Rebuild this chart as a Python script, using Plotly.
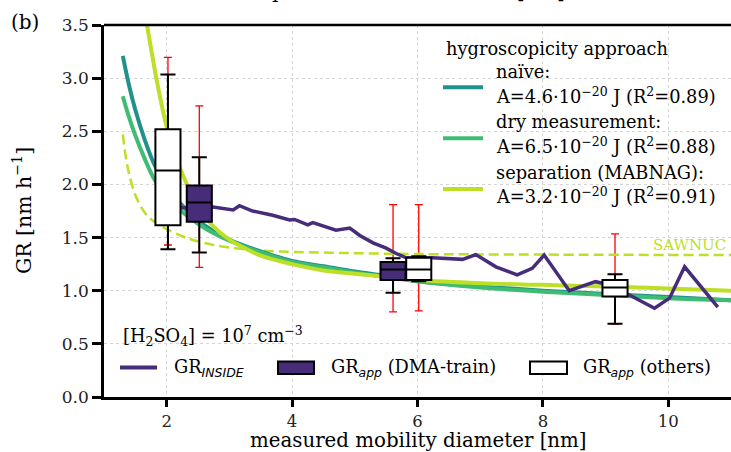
import plotly.graph_objects as go

# ---------------- data ----------------
d_naive = [1.30, 1.40, 1.50, 1.65, 1.80, 2.00, 2.25, 2.50, 2.75, 3.00, 3.50, 4.00, 4.50, 5.00, 5.50, 6.00, 7.00, 8.00, 9.00, 10.0, 11.0]
gr_naive = [3.21, 2.93, 2.70, 2.42, 2.19, 1.98, 1.80, 1.66, 1.56, 1.48, 1.37, 1.28, 1.23, 1.18, 1.14, 1.09, 1.04, 1.00, 0.97, 0.94, 0.91]

d_dry = [1.30, 1.40, 1.50, 1.65, 1.80, 2.00, 2.25, 2.50, 2.75, 3.00, 3.50, 4.00, 4.50, 5.00, 5.50, 6.00, 7.00, 8.00, 9.00, 10.0, 11.0]
gr_dry = [2.83, 2.63, 2.46, 2.24, 2.05, 1.88, 1.74, 1.63, 1.54, 1.47, 1.36, 1.27, 1.22, 1.17, 1.13, 1.09, 1.03, 0.99, 0.96, 0.93, 0.91]

d_sep = [1.45, 1.55, 1.62, 1.70, 1.85, 2.00, 2.15, 2.30, 2.50, 2.72, 3.00, 3.25, 3.50, 4.00, 4.50, 5.00, 5.50, 6.00, 7.00, 8.00, 9.00, 10.0, 11.0]
gr_sep = [4.40, 3.98, 3.72, 3.45, 2.95, 2.54, 2.25, 2.03, 1.80, 1.62, 1.48, 1.40, 1.33, 1.25, 1.19, 1.16, 1.13, 1.10, 1.07, 1.055, 1.04, 1.02, 1.00]

d_sawnuc = [1.30, 1.35, 1.40, 1.50, 1.60, 1.70, 1.85, 2.00, 2.30, 2.75, 3.25, 3.80, 4.80, 6.00, 8.00, 11.0]
gr_sawnuc = [2.47, 2.25, 2.10, 1.90, 1.78, 1.70, 1.63, 1.58, 1.50, 1.43, 1.39, 1.37, 1.355, 1.345, 1.34, 1.335]

d_inside = [2.15, 2.35, 2.71, 3.06, 3.16, 3.37, 3.69, 3.96, 4.04, 4.25, 4.33, 4.54, 4.70, 4.92, 5.08, 5.29, 5.50, 5.66, 5.82,
            6.24, 6.72, 6.93, 7.25, 7.59, 7.83, 8.02, 8.42, 8.84, 8.95, 9.38, 9.78, 10.02, 10.26, 10.79]
gr_inside = [1.78, 1.78, 1.79, 1.76, 1.80, 1.75, 1.71, 1.665, 1.67, 1.62, 1.64, 1.60, 1.57, 1.59, 1.52, 1.45, 1.40, 1.35, 1.31,
             1.31, 1.295, 1.34, 1.225, 1.15, 1.21, 1.335, 1.00, 1.085, 1.07, 0.96, 0.835, 0.93, 1.225, 0.845]

# box statistics: GR_app (DMA-train)
dma_d = [2.52, 5.61]
dma_low = [1.36, 0.98]
dma_q1 = [1.65, 1.10]
dma_med = [1.83, 1.20]
dma_q3 = [1.99, 1.27]
dma_high = [2.255, 1.305]
dma_err_low = [1.22, 0.80]
dma_err_high = [2.74, 1.81]

# box statistics: GR_app (others)
oth_d = [2.02, 6.02, 9.15]
oth_low = [1.39, 1.09, 0.69]
oth_q1 = [1.615, 1.10, 0.945]
oth_med = [2.13, 1.20, 1.03]
oth_q3 = [2.52, 1.31, 1.10]
oth_high = [3.035, 1.325, 1.155]
oth_err_low = [1.43, 0.81, 0.685]
oth_err_high = [3.195, 1.81, 1.535]

x_ticks = [2, 4, 6, 8, 10]
y_ticks = [0.0, 0.5, 1.0, 1.5, 2.0, 2.5, 3.0, 3.5]

# ---------------- style ----------------
W, H = 731, 452
ML, MR, MT, MB = 104, 0, 25, 55
PW, PH = W - ML - MR, H - MT - MB
FONT = "DejaVu Serif"
LEG = 17.8
TEAL, GREEN, LIME, PURPLE = "#21918c", "#3fbc73", "#bddf26", "#472c7a"


def px(x):
    return (x - ML) / PW


def py(y):
    return (H - MB - y) / PH


fig = go.Figure()

# red error bars (behind boxes)
for xs, lo, hi in [(dma_d, dma_err_low, dma_err_high), (oth_d, oth_err_low, oth_err_high)]:
    mid = [(a + b) / 2 for a, b in zip(lo, hi)]
    fig.add_trace(go.Scatter(
        x=xs, y=mid, mode="markers", marker=dict(size=1, opacity=0),
        error_y=dict(type="data", symmetric=False,
                     array=[h - m for h, m in zip(hi, mid)],
                     arrayminus=[m - l for m, l in zip(mid, lo)],
                     color="red", thickness=1.3, width=4),
        showlegend=False, hoverinfo="skip"))

fig.add_trace(go.Scatter(x=d_sawnuc, y=gr_sawnuc, mode="lines", line=dict(color=LIME, width=2.5, dash="10px,5px", shape="spline"), showlegend=False))
fig.add_trace(go.Scatter(x=d_naive, y=gr_naive, mode="lines", line=dict(color=TEAL, width=4, shape="spline"), showlegend=False))
fig.add_trace(go.Scatter(x=d_dry, y=gr_dry, mode="lines", line=dict(color=GREEN, width=4, shape="spline"), showlegend=False))
fig.add_trace(go.Scatter(x=d_sep, y=gr_sep, mode="lines", line=dict(color=LIME, width=4, shape="spline"), showlegend=False))
fig.add_trace(go.Scatter(x=d_inside, y=gr_inside, mode="lines", line=dict(color=PURPLE, width=3.5), showlegend=False))

# boxes on an overlaying pair of axes so they sit above the curves
fig.add_trace(go.Box(x=dma_d, q1=dma_q1, median=dma_med, q3=dma_q3, lowerfence=dma_low, upperfence=dma_high,
                     width=0.4, whiskerwidth=0.6, fillcolor=PURPLE, line=dict(color="black", width=2),
                     boxpoints=False, xaxis="x2", yaxis="y2", showlegend=False))
fig.add_trace(go.Box(x=oth_d, q1=oth_q1, median=oth_med, q3=oth_q3, lowerfence=oth_low, upperfence=oth_high,
                     width=0.4, whiskerwidth=0.6, fillcolor="white", line=dict(color="black", width=2),
                     boxpoints=False, xaxis="x2", yaxis="y2", showlegend=False))

axis_common = dict(showline=True, linecolor="black", linewidth=2.5, ticks="outside", tickwidth=2.5,
                   tickcolor="black", showgrid=True, gridcolor="#d5d5d5", griddash="dot", gridwidth=1,
                   zeroline=False)
fig.update_layout(
    width=W, height=H, margin=dict(l=ML, r=MR, t=MT, b=MB),
    plot_bgcolor="white", paper_bgcolor="white", boxmode="overlay",
    xaxis=dict(range=[1, 11], tickvals=x_ticks, ticklen=7,
               tickfont=dict(family=FONT, size=16.5, color="#222"), **axis_common),
    yaxis=dict(range=[0, 3.5], tickvals=y_ticks, ticktext=[f"{v:.1f}" for v in y_ticks], ticklen=9,
               tickfont=dict(family=FONT, size=17, color="#222"), **axis_common),
    xaxis2=dict(range=[1, 11], overlaying="x", visible=False),
    yaxis2=dict(range=[0, 3.5], overlaying="y", visible=False),
)

shapes = []
annos = []
# top spine
shapes.append(dict(type="line", xref="paper", yref="paper", x0=0, x1=1, y0=1, y1=1, line=dict(color="black", width=2.5)))


def text(x, y, s, size=LEG, xanchor="left", color="black", angle=0):
    annos.append(dict(x=x, y=y, xref="paper", yref="paper", text=s, showarrow=False, xanchor=xanchor,
                      yanchor="middle", textangle=angle, borderpad=0,
                      font=dict(family=FONT, size=size, color=color)))


# axis labels and panel letter
text(px(418), py(440.5), "measured mobility diameter [nm]", size=19.8, xanchor="center")
text(px(22), py(211), "GR [nm h<sup>−1</sup>]", size=20.4, xanchor="center", angle=-90)
text(px(418), py(-9), "particle mass diameter [nm]", size=20.4, xanchor="center")
text(px(10), py(22), "(b)", size=20)

# SAWNUC label
annos.append(dict(x=10.95, y=1.43, xref="x", yref="y", text="SAWNUC", showarrow=False, xanchor="right",
                  yanchor="middle", font=dict(family=FONT, size=15, color=LIME)))

# upper legend
text(px(445), py(48.3), "hygroscopicity approach")
rows = [("naïve:", "A=4.6·10<sup>−20</sup> J (R<sup>2</sup>=0.89)", TEAL, 71.7, 87.3, 95),
        ("dry measurement:", "A=6.5·10<sup>−20</sup> J (R<sup>2</sup>=0.88)", GREEN, 121.7, 138.3, 145),
        ("separation (MABNAG):", "A=3.2·10<sup>−20</sup> J (R<sup>2</sup>=0.91)", LIME, 172.7, 189, 195)]
for t1, t2, c, y1, yl, y2 in rows:
    text(px(495), py(y1), t1)
    text(px(495), py(y2), t2)
    shapes.append(dict(type="line", xref="paper", yref="paper", x0=px(443), x1=px(483), y0=py(yl), y1=py(yl),
                       line=dict(color=c, width=4)))

# lower legend
text(px(122), py(336), "[H<sub>2</sub>SO<sub>4</sub>] = 10<sup>7</sup> cm<sup>−3</sup>")
ly = 367.5
shapes.append(dict(type="line", xref="paper", yref="paper", x0=px(120), x1=px(157), y0=py(ly), y1=py(ly),
                   line=dict(color=PURPLE, width=4)))
sub_style = "font-family:'DejaVu Sans';font-style:italic"
text(px(173), py(ly), f"GR<sub><span style=\"{sub_style}\">INSIDE</span></sub>")
shapes.append(dict(type="rect", xref="paper", yref="paper", x0=px(278), x1=px(314), y0=py(374), y1=py(361.5),
                   fillcolor=PURPLE, line=dict(color="black", width=2)))
text(px(330), py(ly), f"GR<sub><span style=\"{sub_style}\">app</span></sub> (DMA-train)")
shapes.append(dict(type="rect", xref="paper", yref="paper", x0=px(530), x1=px(567), y0=py(374), y1=py(361.5),
                   fillcolor="white", line=dict(color="black", width=2)))
text(px(582), py(ly), f"GR<sub><span style=\"{sub_style}\">app</span></sub> (others)")

fig.update_layout(shapes=shapes, annotations=annos)
fig.write_html("out.html")
